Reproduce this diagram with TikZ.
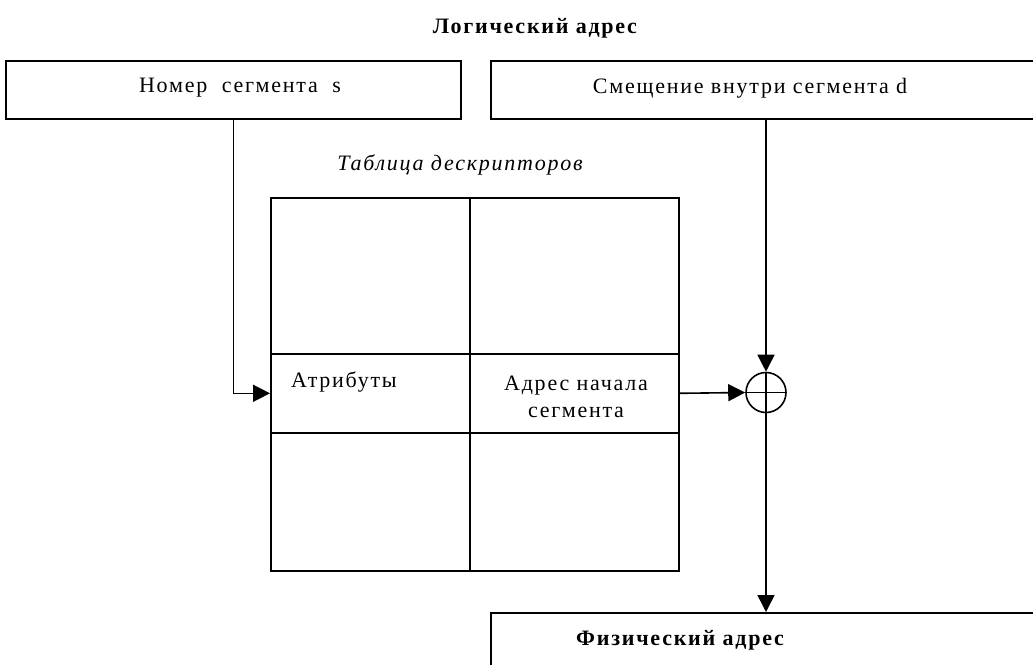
\documentclass[tikz,border=0pt]{standalone}
\usepackage{fontspec}
\setmainfont{Liberation Serif}[LetterSpace=8]
\usetikzlibrary{arrows.meta}
\tikzset{
  box/.style={draw, line width=1.6pt, anchor=north west, inner sep=0pt},
  cell/.style={draw, line width=1.6pt, anchor=north west, inner sep=0pt},
  flow/.style={line width=1.6pt, -{Triangle[length=17pt,width=17pt]}},
}
\begin{document}
\begin{tikzpicture}[x=1pt, y=-1pt, font=\fontsize{22}{27}\selectfont]
  \useasboundingbox (0,0) rectangle (1033,664);
  \clip (0,0) rectangle (1033,664);
  % logical address
  \node[font=\bfseries\fontsize{22}{27}\selectfont] (logaddr) at (535,28) {Логический адрес};
  \node[box, minimum width=455pt, minimum height=58pt] (segno) at (5,60) {};
  \node (segnotext) at (240,88) {Номер \ сегмента \ s};
  \node[box, minimum width=560pt, minimum height=58pt] (offset) at (490,60) {};
  \node (offsettext) at (750,88) {Смещение внутри сегмента d};
  % descriptor table
  \node[font=\itshape\fontsize{22}{27}\selectfont] (tabname) at (460,165) {Таблица дескрипторов};
  \node[cell, minimum width=199pt, minimum height=156pt] (d11) at (270,197) {};
  \node[cell, minimum width=209pt, minimum height=156pt] (d12) at (469,197) {};
  \node[cell, minimum width=199pt, minimum height=79pt] (attr) at (270,353) {};
  \node[cell, minimum width=209pt, minimum height=79pt] (base) at (469,353) {};
  \node[cell, minimum width=199pt, minimum height=138pt] (d31) at (270,432) {};
  \node[cell, minimum width=209pt, minimum height=138pt] (d32) at (469,432) {};
  \node (attrtext) at (344,382) {Атрибуты};
  \node[align=center] (basetext) at (576,397) {Адрес начала\\сегмента};
  % adder
  \node[draw, circle, line width=1.6pt, minimum size=40pt, inner sep=0pt] (sum) at (766,392.5) {};
  \draw[line width=1.6pt] (sum.north) -- (sum.south) (sum.west) -- (sum.east);
  % physical address
  \node[box, minimum width=560pt, minimum height=70pt] (phys) at (490,612) {};
  \node[font=\bfseries\fontsize{22}{27}\selectfont] (physname) at (680,640) {Физический адрес};
  % connectors
  \draw[flow] (segno.south) |- (attr.west);
  \draw[flow] (sum |- offset.south) -- (sum.north);
  \draw[flow] (base.east) -- (sum.west);
  \draw[flow] (sum.south) -- (sum.south |- phys.north);
\end{tikzpicture}
\end{document}
